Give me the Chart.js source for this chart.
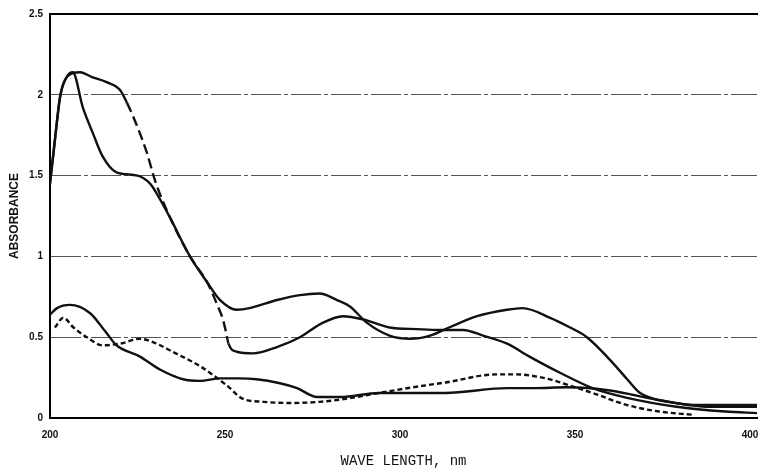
<!DOCTYPE html>
<html>
<head>
<meta charset="utf-8">
<script src="https://cdn.jsdelivr.net/npm/chart.js@4"></script>
<style>
  html, body { margin: 0; padding: 0; background: #fff; }
  #wrap { width: 758px; height: 472px; }
</style>
</head>
<body>
<div id="wrap"><canvas id="chart"></canvas></div>
<script>
// Spectra
const wavelengthA = [200, 201.4, 202.9, 204.8, 206.5, 209.4, 212.3, 215, 219, 225, 228.6, 231, 234.3, 240, 244.9, 248.6, 253.4, 257, 264.9, 271.4, 277, 282, 285.7, 290.5, 297, 302.9, 308.6, 314, 322, 330.6, 335, 342.9, 348.6, 353.4, 360, 364.9, 368.6, 377, 385.7, 402];
const absorbanceA = [1.45, 1.72, 1.99, 2.11, 2.14, 1.92, 1.76, 1.62, 1.52, 1.50, 1.45, 1.37, 1.24, 1.0, 0.84, 0.73, 0.67, 0.68, 0.73, 0.76, 0.77, 0.73, 0.69, 0.59, 0.51, 0.49, 0.51, 0.56, 0.63, 0.67, 0.68, 0.62, 0.56, 0.50, 0.36, 0.24, 0.155, 0.10, 0.08, 0.08];

const wavelengthB = [200, 201.4, 202.9, 204.8, 208.6, 212, 216, 220, 222, 225, 227.7, 230, 234.3, 240, 244.9, 247.6, 249.4, 250.3, 251, 253.4, 258, 265, 271.4, 278, 283.7, 289.5, 297, 304.9, 311.4, 318, 323.7, 330.6, 337, 345.7, 355, 364.9, 379, 393, 402];
const absorbanceB = [1.45, 1.72, 1.99, 2.11, 2.14, 2.11, 2.08, 2.03, 1.95, 1.80, 1.64, 1.47, 1.24, 1.0, 0.84, 0.71, 0.61, 0.53, 0.46, 0.41, 0.40, 0.44, 0.50, 0.59, 0.63, 0.61, 0.56, 0.55, 0.545, 0.545, 0.51, 0.46, 0.38, 0.28, 0.185, 0.125, 0.07, 0.04, 0.03];

const wavelengthC = [200, 202, 205.7, 211.4, 216, 219, 225.7, 231.4, 238, 242.9, 248.6, 254, 259, 265.7, 270.6, 276.3, 282.9, 294, 303.7, 313, 330.6, 338, 347.7, 360, 374, 388.6, 402];
const absorbanceC = [0.64, 0.68, 0.70, 0.65, 0.53, 0.45, 0.38, 0.30, 0.24, 0.23, 0.245, 0.245, 0.24, 0.215, 0.185, 0.13, 0.13, 0.155, 0.155, 0.155, 0.185, 0.185, 0.19, 0.17, 0.11, 0.07, 0.07];

const wavelengthD = [201.4, 203.8, 206.7, 210.5, 215, 220, 225.7, 229.4, 235, 242.9, 250.6, 255, 261, 268.6, 277, 284.9, 294, 303.7, 313, 327.6, 333, 341.7, 348.6, 355, 364.9, 374, 383.7];
const absorbanceD = [0.56, 0.62, 0.56, 0.50, 0.45, 0.46, 0.49, 0.47, 0.41, 0.32, 0.20, 0.12, 0.10, 0.093, 0.10, 0.12, 0.155, 0.19, 0.22, 0.27, 0.27, 0.245, 0.20, 0.155, 0.08, 0.04, 0.02];

const xTicks = [200, 250, 300, 350, 400];
const yTicks = [0, 0.5, 1, 1.5, 2, 2.5];

function toPoints(xs, ys) {
    return xs.map((x, i) => ({ x: x, y: ys[i] }));
}

const lineBase = {
    borderColor: '#111',
    borderWidth: 2.4,
    pointRadius: 0,
    fill: false,
    cubicInterpolationMode: 'monotone'
};

new Chart(document.getElementById('chart'), {
    type: 'line',
    data: {
        datasets: [
            Object.assign({ label: 'A', data: toPoints(wavelengthA, absorbanceA) }, lineBase),
            Object.assign({
                label: 'B',
                data: toPoints(wavelengthB, absorbanceB),
                segment: {
                    // long dashes only on the falling part
                    borderDash: ctx => (ctx.p0.parsed.x >= 221 && ctx.p1.parsed.x <= 252) ? [10, 5] : undefined
                }
            }, lineBase),
            Object.assign({ label: 'C', data: toPoints(wavelengthC, absorbanceC) }, lineBase),
            Object.assign({ label: 'D', data: toPoints(wavelengthD, absorbanceD), borderDash: [5, 3] }, lineBase)
        ]
    },
    options: {
        responsive: true,
        maintainAspectRatio: false,
        devicePixelRatio: 1,
        animation: false,
        layout: { padding: { top: 14, right: 1, bottom: 0, left: 0 } },
        plugins: {
            legend: { display: false },
            tooltip: { enabled: false }
        },
        scales: {
            x: {
                type: 'linear',
                position: 'bottom',
                min: 200,
                max: 402,
                afterBuildTicks: s => { s.ticks = xTicks.map(v => ({ value: v })); },
                afterFit: s => { s.height = 54; s.paddingLeft = 0; s.paddingRight = 0; },
                grid: { display: false, drawTicks: false },
                border: { display: true, color: '#000', width: 2 },
                ticks: {
                    padding: 11,
                    maxRotation: 0,
                    color: '#111',
                    font: { family: 'Liberation Sans', size: 10, weight: 'bold' }
                },
                title: {
                    display: true,
                    text: 'WAVE LENGTH, nm',
                    color: '#111',
                    padding: { top: 0, bottom: 2 },
                    font: { family: 'Liberation Mono', size: 14 }
                }
            },
            xTop: {
                type: 'linear',
                position: 'top',
                min: 200,
                max: 402,
                afterFit: s => { s.height = 0; s.paddingLeft = 0; s.paddingRight = 0; },
                grid: { display: false, drawTicks: false },
                border: { display: true, color: '#000', width: 2 },
                ticks: { display: false }
            },
            y: {
                min: 0,
                max: 2.5,
                afterBuildTicks: s => { s.ticks = yTicks.map(v => ({ value: v })); },
                afterFit: s => { s.width = 50; s.paddingTop = 0; s.paddingBottom = 0; },
                grid: {
                    drawTicks: false,
                    lineWidth: 1,
                    color: ctx => (ctx.tick && (ctx.tick.value === 0 || ctx.tick.value === 2.5)) ? 'rgba(0,0,0,0)' : '#555'
                },
                border: { display: true, color: '#000', width: 2, dash: [30, 3, 4, 3] },
                ticks: {
                    padding: 7,
                    color: '#111',
                    font: { family: 'Liberation Sans', size: 10, weight: 'bold' },
                    callback: v => String(v)
                },
                title: {
                    display: true,
                    text: 'ABSORBANCE',
                    color: '#111',
                    padding: { top: 7, bottom: 0 },
                    font: { family: 'Liberation Sans', size: 12, weight: 'bold' }
                }
            }
        }
    }
});
</script>
</body>
</html>
